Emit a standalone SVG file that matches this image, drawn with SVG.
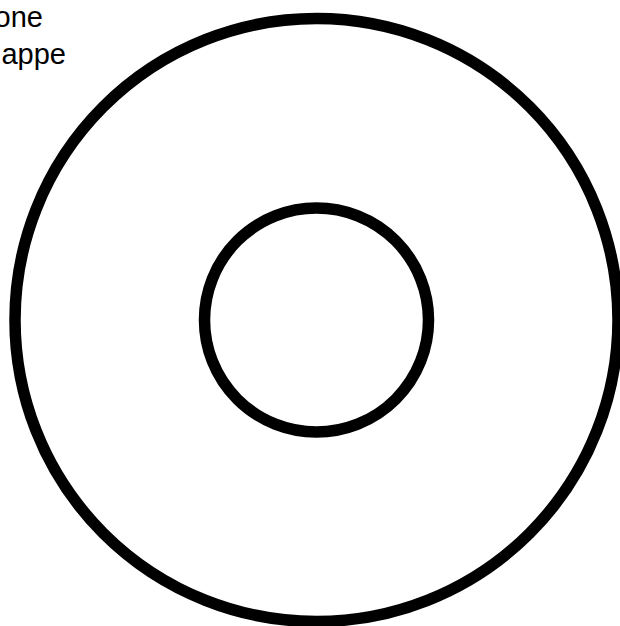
<svg xmlns="http://www.w3.org/2000/svg" width="620" height="626" viewBox="0 0 620 626">
<style>
.ring{fill:none;stroke:#000;stroke-width:11.5}
.lbl{font-family:"Liberation Sans",Arial,sans-serif;font-size:29px;fill:#000;text-anchor:end}
</style>
<rect width="620" height="626" fill="#fff"/>
<g id="outer"><circle class="ring" cx="316.5" cy="320" r="301.5"/></g>
<g id="inner"><circle class="ring" cx="316.5" cy="320" r="112"/></g>
<g id="labels">
<text class="lbl" x="43" y="27">one</text>
<text class="lbl" x="66" y="64">appe</text>
</g>
</svg>
